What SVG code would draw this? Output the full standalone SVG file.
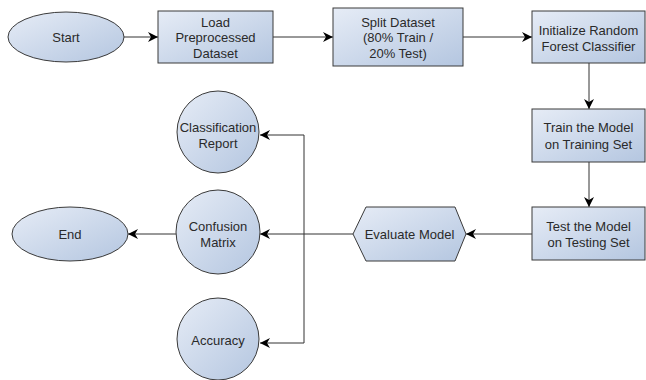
<svg xmlns="http://www.w3.org/2000/svg" width="646" height="380" viewBox="0 0 646 380">
<defs>
<linearGradient id="g" x1="0" y1="0" x2="1" y2="1">
<stop offset="0" stop-color="#e6ecf6"/>
<stop offset="1" stop-color="#b4c6e0"/>
</linearGradient>
<marker id="ah" viewBox="0 0 10 10" refX="10" refY="5" markerWidth="10" markerHeight="10" markerUnits="userSpaceOnUse" orient="auto">
<path d="M0,0 L10,5 L0,10 L3,5 Z" fill="#000"/>
</marker>
<style>
.n{fill:url(#g);stroke:#3a3a3a;stroke-width:1}
.t{font-family:"Liberation Sans",Arial,sans-serif;font-size:13px;fill:#2a2a2a;text-anchor:middle}
.c{fill:none;stroke:#333;stroke-width:1}
</style>
</defs>
<rect width="646" height="380" fill="#fff"/>
<g id="connectors">
<path class="c" d="M124,37 H158" marker-end="url(#ah)"/>
<path class="c" d="M273,37 H333" marker-end="url(#ah)"/>
<path class="c" d="M463,37 H532" marker-end="url(#ah)"/>
<path class="c" d="M589,63 V109" marker-end="url(#ah)"/>
<path class="c" d="M589,162 V207" marker-end="url(#ah)"/>
<path class="c" d="M532,234 H466" marker-end="url(#ah)"/>
<path class="c" d="M353,234 H260" marker-end="url(#ah)"/>
<path class="c" d="M304,234 V135 H260" marker-end="url(#ah)"/>
<path class="c" d="M304,234 V343 H260" marker-end="url(#ah)"/>
<path class="c" d="M176,234 H128" marker-end="url(#ah)"/>
</g>
<g id="start">
<ellipse class="n" cx="66" cy="37" rx="58" ry="25"/>
<text class="t" x="66" y="41.5">Start</text>
</g>
<g id="load">
<rect class="n" x="158" y="11" width="115" height="52"/>
<text class="t" x="215.5" y="27">Load</text>
<text class="t" x="215.5" y="42">Preprocessed</text>
<text class="t" x="215.5" y="58">Dataset</text>
</g>
<g id="split">
<rect class="n" x="333" y="8" width="130" height="58"/>
<text class="t" x="398" y="27">Split Dataset</text>
<text class="t" x="398" y="42">(80% Train /</text>
<text class="t" x="398" y="58">20% Test)</text>
</g>
<g id="init">
<rect class="n" x="532" y="11" width="113" height="52"/>
<text class="t" x="588.5" y="34.5">Initialize Random</text>
<text class="t" x="588.5" y="50.5">Forest Classifier</text>
</g>
<g id="train">
<rect class="n" x="532" y="109" width="113" height="53"/>
<text class="t" x="588.5" y="132">Train the Model</text>
<text class="t" x="588.5" y="148.5">on Training Set</text>
</g>
<g id="test">
<rect class="n" x="532" y="207" width="113" height="53"/>
<text class="t" x="588.5" y="231">Test the Model</text>
<text class="t" x="588.5" y="247">on Testing Set</text>
</g>
<g id="evaluate">
<polygon class="n" points="353,234 366,207 455,207 466,234 455,261 366,261"/>
<text class="t" x="409.5" y="238.5">Evaluate Model</text>
</g>
<g id="report">
<circle class="n" cx="218" cy="132" r="41"/>
<text class="t" x="218" y="132">Classification</text>
<text class="t" x="218" y="148">Report</text>
</g>
<g id="confusion">
<circle class="n" cx="218" cy="232" r="42"/>
<text class="t" x="218" y="231">Confusion</text>
<text class="t" x="218" y="247">Matrix</text>
</g>
<g id="accuracy">
<circle class="n" cx="218" cy="339" r="41"/>
<text class="t" x="218" y="345">Accuracy</text>
</g>
<g id="end">
<ellipse class="n" cx="70" cy="234" rx="58" ry="27"/>
<text class="t" x="70" y="238.5">End</text>
</g>
</svg>
